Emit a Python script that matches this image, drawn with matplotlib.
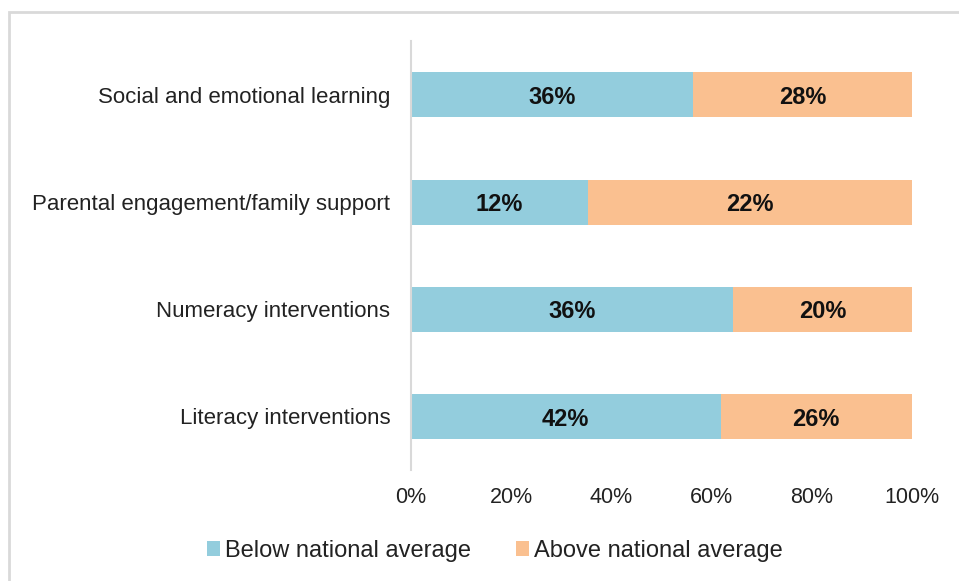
import matplotlib.pyplot as plt
from matplotlib.patches import Rectangle
import numpy as np

plt.rcParams['font.family'] = ['Liberation Sans', 'DejaVu Sans']

categories = ['Literacy interventions', 'Numeracy interventions',
              'Parental engagement/family support', 'Social and emotional learning']
below = [42, 36, 12, 36]
above = [26, 20, 22, 28]

blue = '#93CDDD'
orange = '#FAC090'

below_arr = np.array(below, dtype=float)
above_arr = np.array(above, dtype=float)
total = below_arr + above_arr
below_pct = below_arr / total * 100
above_pct = above_arr / total * 100

fig = plt.figure(figsize=(9.59, 5.81), dpi=100)
ax = fig.add_axes([0.4286, 0.191, 0.5225, 0.738])

y = np.arange(len(categories))
ax.barh(y, below_pct, height=0.42, color=blue, label='Below national average')
ax.barh(y, above_pct, left=below_pct, height=0.42, color=orange, label='Above national average')

# labels show the raw values, bars are scaled to 100%
for i in range(len(categories)):
    ax.text(below_pct[i] / 2, y[i] - 0.025, f'{below[i]}%', ha='center', va='center',
            fontsize=17, fontweight='bold', color='#111111')
    ax.text(below_pct[i] + above_pct[i] / 2, y[i] - 0.025, f'{above[i]}%', ha='center',
            va='center', fontsize=17, fontweight='bold', color='#111111')

ax.set_xlim(0, 100)
ax.set_ylim(-0.5, 3.5)
ax.set_yticks(y)
ax.set_yticklabels(categories, fontsize=16, color='#222222')
ax.set_xticks([0, 20, 40, 60, 80, 100])
ax.set_xticklabels(['0%', '20%', '40%', '60%', '80%', '100%'], fontsize=15.5, color='#222222')
ax.tick_params(axis='y', length=0, pad=15)
ax.tick_params(axis='x', length=0, pad=12)
for s in ['top', 'right', 'bottom']:
    ax.spines[s].set_visible(False)
ax.spines['left'].set_color('#D9D9D9')
ax.spines['left'].set_linewidth(1.5)

leg = fig.legend(loc='center', bbox_to_anchor=(0.516, 0.052), ncol=2, frameon=False,
                 fontsize=17, handlelength=0.55, handleheight=0.55, handletextpad=0.2,
                 columnspacing=1.9)
for t in leg.get_texts():
    t.set_color('#222222')

# outer chart frame
fig.patches.append(Rectangle((9 / 959, -0.1), 1.0, 1.1 - 12 / 581,
                             transform=fig.transFigure, fill=False,
                             edgecolor='#D9D9D9', linewidth=2))

fig.savefig('out.png', dpi=100)
